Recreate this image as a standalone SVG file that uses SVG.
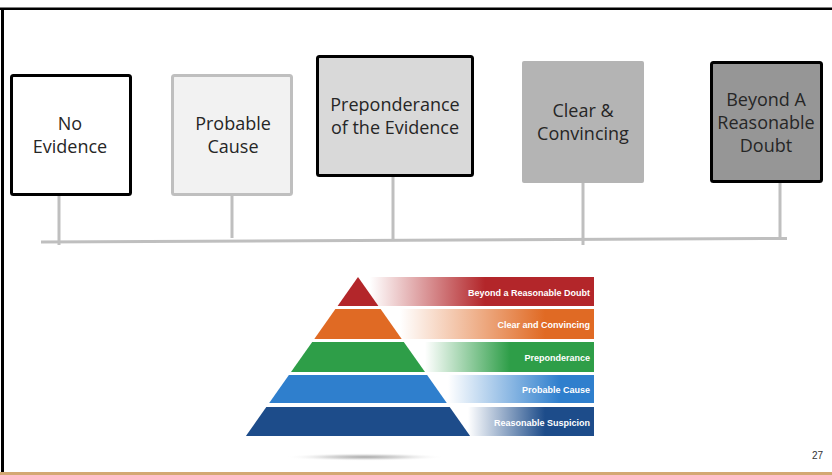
<svg xmlns="http://www.w3.org/2000/svg" width="832" height="475" viewBox="0 0 832 475">
<style>
.box text{font-family:"Open Sans","Noto Sans",sans-serif;font-size:18px;fill:#262626;text-anchor:middle}
.stem{stroke:#bfbfbf;stroke-width:3;fill:none}
.lbl{font-family:"Liberation Sans",Arial,sans-serif;font-size:9px;font-weight:bold;fill:#fff;text-anchor:end}
</style>
<defs>
<linearGradient id="gRed" gradientUnits="userSpaceOnUse" x1="370" y1="0" x2="485" y2="0"><stop offset="0" stop-color="#fff"/><stop offset="1" stop-color="#b3262a"/></linearGradient>
<linearGradient id="gOrg" gradientUnits="userSpaceOnUse" x1="400" y1="0" x2="545" y2="0"><stop offset="0" stop-color="#fff"/><stop offset="1" stop-color="#e06a24"/></linearGradient>
<linearGradient id="gGrn" gradientUnits="userSpaceOnUse" x1="425" y1="0" x2="510" y2="0"><stop offset="0" stop-color="#fff"/><stop offset="1" stop-color="#2e9e48"/></linearGradient>
<linearGradient id="gBlu" gradientUnits="userSpaceOnUse" x1="448" y1="0" x2="560" y2="0"><stop offset="0" stop-color="#fff"/><stop offset="1" stop-color="#2f7fcd"/></linearGradient>
<linearGradient id="gDbl" gradientUnits="userSpaceOnUse" x1="468" y1="0" x2="545" y2="0"><stop offset="0" stop-color="#fff"/><stop offset="1" stop-color="#1d4c8a"/></linearGradient>
<radialGradient id="gSh" cx="0.5" cy="0.5" r="0.5"><stop offset="0" stop-color="#aaa"/><stop offset="0.5" stop-color="#ddd"/><stop offset="1" stop-color="#fff" stop-opacity="0"/></radialGradient>
</defs>
<rect x="0" y="0" width="832" height="475" fill="#fff"/>
<line x1="0" y1="8.75" x2="832" y2="8.75" stroke="#000" stroke-width="2.5"/>
<line x1="2.5" y1="8" x2="2.5" y2="472" stroke="#000" stroke-width="3"/>
<rect x="0" y="472" width="832" height="3" fill="#d4a873"/>

<g id="connectors">
<line class="stem" x1="41" y1="242" x2="787" y2="238.5"/>
<line class="stem" x1="59" y1="196" x2="59" y2="245"/>
<line class="stem" x1="232" y1="196" x2="232" y2="238"/>
<line class="stem" x1="393" y1="177" x2="393" y2="239"/>
<line class="stem" x1="583" y1="183" x2="583" y2="245"/>
<line class="stem" x1="780" y1="183" x2="780" y2="239"/>
</g>

<g id="node-no-evidence" class="box">
<rect x="11.5" y="75.5" width="119" height="119" rx="2" fill="#fff" stroke="#000" stroke-width="3"/>
<text x="70" y="130">No</text>
<text x="70" y="153">Evidence</text>
</g>
<g id="node-probable-cause" class="box">
<rect x="172.5" y="75.5" width="119" height="119" rx="2" fill="#f2f2f2" stroke="#bfbfbf" stroke-width="3"/>
<text x="233" y="130">Probable</text>
<text x="233" y="153">Cause</text>
</g>
<g id="node-preponderance" class="box">
<rect x="317.5" y="56.5" width="155" height="119" rx="2" fill="#d9d9d9" stroke="#000" stroke-width="3"/>
<text x="395" y="111">Preponderance</text>
<text x="395" y="134">of the Evidence</text>
</g>
<g id="node-clear-convincing" class="box">
<rect x="522" y="61" width="122" height="122" rx="2" fill="#b4b4b4"/>
<text x="583" y="117">Clear &amp;</text>
<text x="583" y="140">Convincing</text>
</g>
<g id="node-beyond-doubt" class="box">
<rect x="711.5" y="62.5" width="110" height="119" rx="2" fill="#969696" stroke="#000" stroke-width="3"/>
<text x="766" y="106">Beyond A</text>
<text x="766" y="129">Reasonable</text>
<text x="766" y="152">Doubt</text>
</g>

<g id="pyramid">
<ellipse cx="365" cy="457" rx="80" ry="4" fill="url(#gSh)"/>
<rect x="358" y="277" width="236" height="29" fill="url(#gRed)"/>
<rect x="380" y="309" width="214" height="30" fill="url(#gOrg)"/>
<rect x="403" y="342" width="191" height="30" fill="url(#gGrn)"/>
<rect x="427" y="375" width="167" height="28" fill="url(#gBlu)"/>
<rect x="449" y="407" width="145" height="29" fill="url(#gDbl)"/>
<polygon points="358,277 378.4,306 337.6,306" fill="#b3262a"/>
<polygon points="335.4,309 380.6,309 401.7,339 314.3,339" fill="#e06a24"/>
<polygon points="312.2,342 403.8,342 425,372 291,372" fill="#2e9e48"/>
<polygon points="288.9,375 427.1,375 446.8,403 269.2,403" fill="#2f7fcd"/>
<polygon points="266.3,407 449.7,407 470.1,436 245.9,436" fill="#1d4c8a"/>
<text class="lbl" x="590" y="295.5">Beyond a Reasonable Doubt</text>
<text class="lbl" x="590" y="328">Clear and Convincing</text>
<text class="lbl" x="590" y="360.5">Preponderance</text>
<text class="lbl" x="590" y="392.5">Probable Cause</text>
<text class="lbl" x="590" y="425.5">Reasonable Suspicion</text>
</g>

<text x="823" y="459" font-family="'Liberation Sans Narrow','Liberation Sans',sans-serif" font-size="10" fill="#333" text-anchor="end">27</text>
</svg>
